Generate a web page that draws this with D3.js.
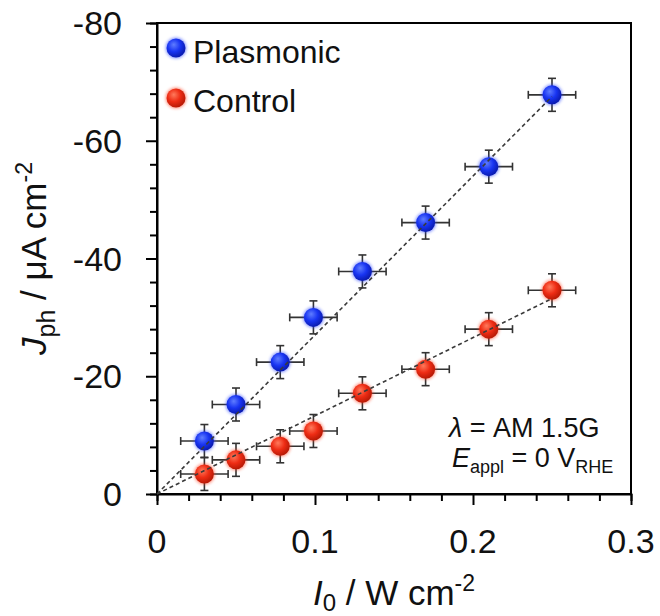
<!DOCTYPE html>
<html>
<head>
<meta charset="utf-8">
<script src="https://cdn.jsdelivr.net/npm/d3@7"></script>
<style>
  html, body { margin: 0; padding: 0; background: #fff; }
  svg { display: block; font-family: "Liberation Sans", Arial, Helvetica, sans-serif; }
</style>
</head>
<body>
<svg id="chart" width="660" height="616"></svg>
<script>
// ---- data ----
const intensity = [0.03, 0.05, 0.078, 0.099, 0.13, 0.17, 0.21, 0.25];
const plasmonic = [-9.0, -15.2, -22.4, -30.0, -37.8, -46.1, -55.6, -67.8];
const control   = [-3.4, -5.8, -8.1, -10.7, -17.1, -21.2, -28.0, -34.6];
const xErr = [0.015, 0.015, 0.015, 0.015, 0.015, 0.015, 0.015, 0.015];
const plasmonicErr = [2.8, 2.8, 2.8, 2.8, 2.8, 2.8, 2.8, 2.8];
const controlErr   = [2.8, 2.8, 2.8, 2.8, 2.8, 2.8, 2.8, 2.8];
const plasmonicFit = [[0, 0], [0.25, -67.5]];
const controlFit   = [[0, 0], [0.25, -33.2]];
const xTicks = [0, 0.1, 0.2, 0.3];
const xTickLabels = ["0", "0.1", "0.2", "0.3"];
const yTicks = [0, -20, -40, -60, -80];
const yTickLabels = ["0", "-20", "-40", "-60", "-80"];
const seriesNames = ["Plasmonic", "Control"];

// ---- layout ----
const L = 157, R = 631, T = 23, B = 494;
const svg = d3.select("#chart");
const x = d3.scaleLinear().domain([0, 0.3]).range([L, R]);
const y = d3.scaleLinear().domain([0, -80]).range([B, T]);

// gradients
const defs = svg.append("defs");
function sphereGrad(id, c0, c1, c2) {
  const g = defs.append("radialGradient").attr("id", id)
    .attr("cx", "40%").attr("cy", "38%").attr("r", "62%").attr("fx", "38%").attr("fy", "32%");
  g.append("stop").attr("offset", "0%").attr("stop-color", c0);
  g.append("stop").attr("offset", "55%").attr("stop-color", c1);
  g.append("stop").attr("offset", "100%").attr("stop-color", c2);
}
sphereGrad("gBlue", "#5f7dff", "#1834f2", "#0a1bb0");
sphereGrad("gRed", "#ff7a5c", "#ee2c14", "#b81a06");
const blur = defs.append("filter").attr("id", "glow").attr("x", "-50%").attr("y", "-50%").attr("width", "200%").attr("height", "200%");
blur.append("feGaussianBlur").attr("stdDeviation", 1.6);

// frame
svg.append("rect").attr("x", L).attr("y", T).attr("width", R - L).attr("height", B - T)
  .attr("fill", "none").attr("stroke", "#000").attr("stroke-width", 2);

// axes
const xAxis = d3.axisBottom(x).tickValues(d3.range(0, 0.3001, 0.02)).tickSize(7).tickFormat("");
const gx = svg.append("g").attr("transform", `translate(0,${B})`).call(xAxis);
gx.select(".domain").attr("stroke-width", 2);
gx.selectAll(".tick line").attr("stroke-width", 2)
  .attr("y2", d => xTicks.some(t => Math.abs(t - d) < 1e-6) ? 11 : 7);

const yAxis = d3.axisLeft(y).tickValues(d3.range(0, -80.001, -4)).tickSize(7).tickFormat("");
const gy = svg.append("g").attr("transform", `translate(${L},0)`).call(yAxis);
gy.select(".domain").attr("stroke-width", 2);
gy.selectAll(".tick line").attr("stroke-width", 2)
  .attr("x2", d => yTicks.some(t => Math.abs(t - d) < 1e-6) ? -11 : -7);

// tick labels
svg.append("g").selectAll("text").data(xTicks).join("text")
  .attr("x", d => x(d)).attr("y", 553).attr("text-anchor", "middle")
  .attr("font-size", 34).attr("fill", "#111").text((d, i) => xTickLabels[i]);
svg.append("g").selectAll("text").data(yTicks).join("text")
  .attr("x", 122).attr("y", d => y(d)).attr("dy", "0.36em").attr("text-anchor", "end")
  .attr("font-size", 34).attr("fill", "#111").text((d, i) => yTickLabels[i]);

// axis titles
const xt = svg.append("text").attr("x", (L + R) / 2).attr("y", 605).attr("text-anchor", "middle")
  .attr("font-size", 35).attr("fill", "#111");
xt.append("tspan").attr("font-style", "italic").text("I");
xt.append("tspan").attr("font-size", 24).attr("dy", 6).text("0");
xt.append("tspan").attr("dy", -6).text(" / W cm");
xt.append("tspan").attr("font-size", 23).attr("dy", -14).text("-2");

const yt = svg.append("text").attr("transform", `translate(46,${(T + B) / 2}) rotate(-90)`)
  .attr("text-anchor", "middle").attr("font-size", 35).attr("fill", "#111");
yt.append("tspan").attr("font-style", "italic").text("J");
yt.append("tspan").attr("font-size", 25).attr("dy", 9).text("ph");
yt.append("tspan").attr("dy", -9).text(" / μA cm");
yt.append("tspan").attr("font-size", 23).attr("dy", -14).text("-2");

// series
const series = [
  { vals: plasmonic, err: plasmonicErr, fit: plasmonicFit, grad: "url(#gBlue)", glow: "#2a45ff" },
  { vals: control, err: controlErr, fit: controlFit, grad: "url(#gRed)", glow: "#ff3a1a" }
];
const eb = svg.append("g").attr("stroke", "#333").attr("stroke-width", 1.6).attr("fill", "none");
series.forEach(s => {
  intensity.forEach((xi, i) => {
    const yi = s.vals[i], ex = xErr[i], ey = s.err[i];
    eb.append("line").attr("x1", x(xi - ex)).attr("x2", x(xi + ex)).attr("y1", y(yi)).attr("y2", y(yi));
    eb.append("line").attr("x1", x(xi)).attr("x2", x(xi)).attr("y1", y(yi - ey)).attr("y2", y(yi + ey));
    [xi - ex, xi + ex].forEach(v => eb.append("line").attr("x1", x(v)).attr("x2", x(v)).attr("y1", y(yi) - 4).attr("y2", y(yi) + 4));
    [yi - ey, yi + ey].forEach(v => eb.append("line").attr("x1", x(xi) - 4).attr("x2", x(xi) + 4).attr("y1", y(v)).attr("y2", y(v)));
  });
});
const pts = svg.append("g");
series.forEach(s => {
  pts.append("g").selectAll("circle.glow").data(intensity).join("circle")
    .attr("cx", d => x(d)).attr("cy", (d, i) => y(s.vals[i])).attr("r", 10.5)
    .attr("fill", s.glow).attr("opacity", 0.55).attr("filter", "url(#glow)");
  pts.append("g").selectAll("circle.ball").data(intensity).join("circle")
    .attr("cx", d => x(d)).attr("cy", (d, i) => y(s.vals[i])).attr("r", 9.5)
    .attr("fill", s.grad);
});
const line = d3.line().x(d => x(d[0])).y(d => y(d[1]));
series.forEach(s => {
  svg.append("path").attr("d", line(s.fit)).attr("fill", "none")
    .attr("stroke", "#3a3a3a").attr("stroke-width", 1.6).attr("stroke-dasharray", "4,3");
});

// legend
const leg = svg.append("g");
[["url(#gBlue)", "#2a45ff", 48, 63], ["url(#gRed)", "#ff3a1a", 98, 112]].forEach((l, i) => {
  leg.append("circle").attr("cx", 176).attr("cy", l[2]).attr("r", 10.5).attr("fill", l[1]).attr("opacity", 0.55).attr("filter", "url(#glow)");
  leg.append("circle").attr("cx", 176).attr("cy", l[2]).attr("r", 9.5).attr("fill", l[0]);
  leg.append("text").attr("x", 193).attr("y", l[3]).attr("font-size", 32).attr("fill", "#111").text(seriesNames[i]);
});

// annotation
const a1 = svg.append("text").attr("x", 449).attr("y", 437).attr("font-size", 27).attr("fill", "#111");
a1.append("tspan").attr("font-style", "italic").text("λ");
a1.append("tspan").text(" = AM 1.5G");
const a2 = svg.append("text").attr("x", 452).attr("y", 467).attr("font-size", 27).attr("fill", "#111");
a2.append("tspan").attr("font-style", "italic").text("E");
a2.append("tspan").attr("font-size", 18).attr("dy", 6).text("appl");
a2.append("tspan").attr("dy", -6).text(" = 0 V");
a2.append("tspan").attr("font-size", 18).attr("dy", 6).text("RHE");
</script>
</body>
</html>
